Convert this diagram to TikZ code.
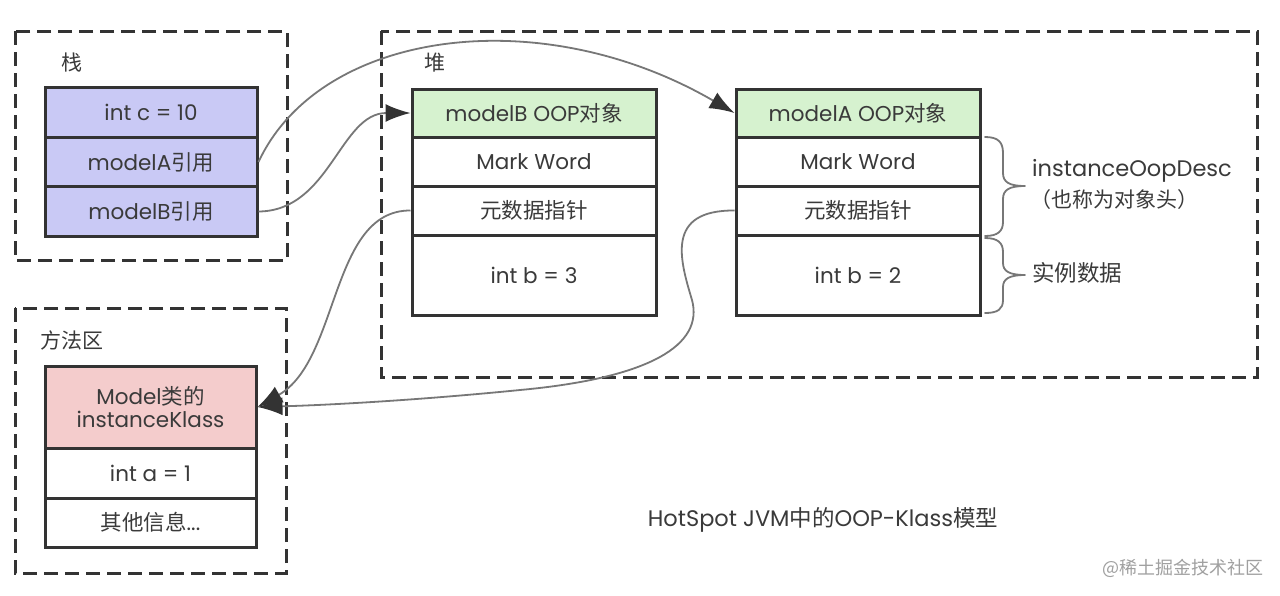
\documentclass[tikz,border=0pt]{standalone}
\usepackage{fontspec}
\setmainfont{Poppins}
\newfontfamily\cjk{Noto Sans CJK SC}
\usetikzlibrary{arrows.meta}
\definecolor{linec}{HTML}{333333}
\definecolor{txtc}{HTML}{3A3A3A}
\definecolor{connc}{HTML}{777777}
\definecolor{stackc}{HTML}{C9C9F5}
\definecolor{greenc}{HTML}{D6F2CF}
\definecolor{pinkc}{HTML}{F4CCCC}
\definecolor{wmc}{HTML}{A0A0A0}
\begin{document}
\begin{tikzpicture}[x=1pt,y=-1pt,
  area/.style={draw=linec, line width=3pt, dash pattern=on 14pt off 7pt},
  cell/.style={draw=linec, line width=3pt, inner sep=0pt, text=txtc, font=\fontsize{21.5}{25}\selectfont, align=center},
  stackcell/.style={cell, fill=stackc, minimum width=212pt, minimum height=49.3pt},
  heapcell/.style={cell, fill=white, minimum width=244pt},
  methcell/.style={cell, fill=white, minimum width=211pt},
  lbl/.style={text=txtc, font=\fontsize{21}{25}\selectfont, inner sep=0pt},
  conn/.style={draw=connc, line width=1.8pt, -{Latex[length=25pt,width=18pt,color=linec]}},
  brc/.style={draw=connc, line width=1.8pt, line cap=round, line join=round}
]
\useasboundingbox (0,0) rectangle (1280,595);
\fill[white] (0,0) rectangle (1280,595);

% areas
\draw[area] (15,31) rectangle (287,260);
\draw[area] (381,31) rectangle (1257,377);
\draw[area] (15,308) rectangle (286,573);

\node[lbl] (lstack) at (72,63) {\cjk 栈};
\node[lbl] (lheap) at (435,63) {\cjk 堆};
\node[lbl] (lmeth) at (72,340) {\cjk 方法区};

% stack
\node[stackcell] (sC) at (151,112.5) {int c = 10};
\node[stackcell] (sA) at (151,162) {modelA{\cjk 引用}};
\node[stackcell] (sB) at (151,211.5) {modelB{\cjk 引用}};

% heap modelB
\node[heapcell, fill=greenc, minimum height=48pt] (bH) at (534,113) {modelB OOP{\cjk 对象}};
\node[heapcell, minimum height=49pt] (bW) at (534,161.5) {Mark Word};
\node[heapcell, minimum height=49pt] (bM) at (534,210.5) {\cjk 元数据指针};
\node[heapcell, minimum height=80pt] (bD) at (534,275) {int b = 3};

% heap modelA
\node[heapcell, fill=greenc, minimum height=48pt] (aH) at (858,113) {modelA OOP{\cjk 对象}};
\node[heapcell, minimum height=49pt] (aW) at (858,161.5) {Mark Word};
\node[heapcell, minimum height=49pt] (aM) at (858,210.5) {\cjk 元数据指针};
\node[heapcell, minimum height=80pt] (aD) at (858,275) {int b = 2};

% method area
\node[methcell, fill=pinkc, minimum height=82pt] (kl) at (150.5,407) {Model{\cjk 类的}\\[-2pt]instanceKlass};
\node[methcell, minimum height=50pt] (ka) at (150.5,473) {int a = 1};
\node[methcell, minimum height=49pt] (ko) at (150.5,522.5) {{\cjk 其他信息}...};

% braces
\draw[brc] (985,137) .. controls (998,137) and (1003,142) .. (1003,153) -- (1003,173)
  .. controls (1003,182) and (1009,186) .. (1025,186)
  .. controls (1009,186) and (1003,190) .. (1003,199) -- (1003,222)
  .. controls (1003,231) and (998,236) .. (985,236);
\draw[brc] (985,238) .. controls (998,238) and (1003,243) .. (1003,252) -- (1003,263)
  .. controls (1003,271) and (1009,275) .. (1025,275)
  .. controls (1009,275) and (1003,279) .. (1003,287) -- (1003,300)
  .. controls (1003,309) and (998,313) .. (985,313);
\node[lbl, anchor=west, font=\fontsize{22.5}{26}\selectfont] (tdesc) at (1032,171) {instanceOopDesc};
\node[lbl, anchor=west, font=\fontsize{21}{25}\selectfont] (thead) at (1030,200) {\cjk （也称为对象头）};
\node[lbl, anchor=west, font=\fontsize{22.5}{26}\selectfont] (tinst) at (1032,273) {\cjk 实例数据};

% connectors
\draw[conn] (sA.east) .. controls (320,30) and (540,0) .. (aH.west);
\draw[conn] (sB.east) .. controls (330,211) and (340,113) .. (bH.west);
\draw[conn] (bM.west) .. controls (330,210) and (340,360) .. (kl.east);
\coordinate (m1) at (692,300);
\coordinate (m2) at (520,390);
\draw[conn] (aM.west) .. controls (665,210) and (680,260) .. (m1)
   .. controls (704,345) and (650,378) .. (m2)
   .. controls (420,400) and (330,405) .. (kl.east);

% title and watermark
\node[lbl, font=\fontsize{22.5}{26}\selectfont] (title) at (823,520) {HotSpot JVM{\cjk 中的}OOP-Klass{\cjk 模型}};
\node[text=wmc, font=\cjk\fontsize{18}{22}\selectfont, inner sep=0pt] (wm) at (1183,568) {@稀土掘金技术社区};
\end{tikzpicture}
\end{document}
